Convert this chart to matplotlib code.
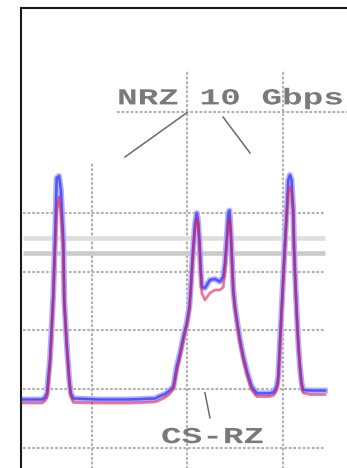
import matplotlib
matplotlib.use("Agg")
import matplotlib.pyplot as plt
from matplotlib.patheffects import AbstractPathEffect
from matplotlib.transforms import Affine2D

# Optical spectrum: two NRZ 10 Gbps channels and a CS-RZ channel between them
wavelength_nm = [
    1549.313, 1549.393, 1549.405, 1549.414, 1549.419, 1549.426, 1549.433, 1549.440,
    1549.447, 1549.454, 1549.464, 1549.472, 1549.482, 1549.486, 1549.496, 1549.506,
    1549.513, 1549.524, 1549.636, 1549.761, 1549.866, 1549.887, 1549.908, 1549.925,
    1549.943, 1549.957, 1549.971, 1549.985, 1549.999, 1550.010, 1550.015, 1550.020,
    1550.026, 1550.034, 1550.041, 1550.046, 1550.052, 1550.057, 1550.062, 1550.075,
    1550.096, 1550.117, 1550.138, 1550.152, 1550.159, 1550.166, 1550.173, 1550.178,
    1550.184, 1550.188, 1550.194, 1550.201, 1550.211, 1550.222, 1550.236, 1550.253,
    1550.271, 1550.292, 1550.320, 1550.348, 1550.364, 1550.376, 1550.382, 1550.389,
    1550.396, 1550.403, 1550.410, 1550.418, 1550.424, 1550.431, 1550.438, 1550.445,
    1550.448, 1550.452, 1550.459, 1550.466, 1550.473, 1550.480, 1550.487, 1550.515,
    1550.578,
]

power_blue_dbm = [
    -51.77, -51.77, -51.43, -50.66, -47.94, -45.04, -39.42, -33.63,
    -24.60, -14.04, -13.70, -16.08, -24.60, -34.82, -42.15, -47.94,
    -50.66, -51.60, -51.77, -51.77, -51.60, -51.18, -50.84, -50.32,
    -49.59, -46.18, -43.85, -41.07, -38.74, -35.96, -33.12, -29.71,
    -25.74, -21.70, -20.00, -21.19, -24.60, -29.15, -32.56, -32.78,
    -31.41, -31.24, -31.70, -30.85, -28.52, -24.60, -20.05, -19.57,
    -23.75, -27.44, -33.12, -35.96, -38.74, -41.64, -44.48, -47.26,
    -49.59, -50.72, -50.72, -50.72, -50.49, -49.47, -47.89, -42.15,
    -36.52, -30.85, -25.11, -19.49, -14.38, -13.53, -14.38, -19.49,
    -25.11, -29.71, -36.52, -42.15, -46.18, -48.96, -50.15, -50.24,
    -50.24,
]

power_red_dbm = [
    -52.37, -52.37, -52.03, -51.35, -49.30, -45.89, -40.78, -34.82,
    -26.30, -19.49, -17.27, -19.49, -26.30, -35.67, -42.49, -48.45,
    -51.18, -52.28, -52.37, -52.37, -52.20, -51.86, -51.43, -50.92,
    -49.98, -46.92, -44.53, -41.64, -39.25, -36.52, -33.97, -30.56,
    -26.64, -22.55, -20.85, -21.70, -25.11, -30.05, -33.63, -34.82,
    -33.63, -33.12, -33.12, -32.61, -29.71, -25.62, -21.87, -20.85,
    -23.92, -28.01, -33.63, -36.35, -39.25, -42.15, -45.04, -47.77,
    -50.15, -51.26, -51.26, -51.26, -51.01, -50.15, -48.79, -43.34,
    -37.41, -31.75, -26.30, -20.68, -16.59, -15.57, -16.42, -20.34,
    -25.96, -30.56, -37.04, -42.49, -46.41, -49.47, -50.66, -50.92,
    -50.92,
]

# Grid
grid_levels_dbm = [-20, -30, -40, -50, -60]
grid_wavelengths_nm = [1549.6, 1550.0, 1550.4]
grid_tops_dbm = [-11.3, 4.4, 4.4]
reference_levels_dbm = [-24.34, -26.81]
reference_colors = ["#dedede", "#cbcbcb"]

label_nrz = "NRZ 10 Gbps"
label_csrz = "CS-RZ"


class HorizontalStretch(AbstractPathEffect):
    """Widen glyphs horizontally about the start of the text line."""

    def __init__(self, sx):
        super().__init__()
        self.sx = sx

    def draw_path(self, renderer, gc, tpath, affine, rgbFace=None):
        x0 = affine.get_matrix()[0, 2]
        stretched = affine + Affine2D().translate(-x0, 0).scale(self.sx, 1).translate(x0, 0)
        renderer.draw_path(gc, tpath, stretched, rgbFace)


W, H = 347, 468
fig = plt.figure(figsize=(W / 100, H / 100), dpi=100)

# Axes frame: left and top edges visible, the rest runs past the figure
left_px, top_px, right_px, bottom_px = 21, 8, 400, 500
ax = fig.add_axes([left_px / W, 1 - bottom_px / H,
                   (right_px - left_px) / W, (bottom_px - top_px) / H])

px_per_nm = 95.5 / 0.4
px_per_db = 58.7 / 10.0
ax.set_xlim(1550.0 + (left_px - 187) / px_per_nm, 1550.0 + (right_px - 187) / px_per_nm)
ax.set_ylim(-20 - (bottom_px - 213) / px_per_db, -20 + (213 - top_px) / px_per_db)
ax.set_xticks([])
ax.set_yticks([])
for side in ("left", "top", "right", "bottom"):
    ax.spines[side].set_linewidth(1.5)
    ax.spines[side].set_color("#1a1a1a")

x_lo, x_hi = 1549.313, 1550.578
dotted = dict(color="#b0b0b0", linewidth=1.5, linestyle=(0, (1.3, 0.9)))
ax.hlines(grid_levels_dbm, x_lo, x_hi, zorder=1, **dotted)
for wl, top in zip(grid_wavelengths_nm, grid_tops_dbm):
    ax.vlines(wl, -80, top, zorder=1, **dotted)
for lvl, col in zip(reference_levels_dbm, reference_colors):
    ax.hlines(lvl, x_lo, x_hi, color=col, linewidth=3.3, zorder=1)

# Spectra
ax.plot(wavelength_nm, power_blue_dbm, color="#b0b0ff", linewidth=4.2, zorder=2,
        solid_joinstyle="round")
ax.plot(wavelength_nm, power_blue_dbm, color="#4a4aff", linewidth=1.8, alpha=0.9,
        zorder=3, solid_joinstyle="round")
ax.plot(wavelength_nm, power_red_dbm, color="#e0204a", linewidth=2.0, alpha=0.6,
        zorder=4, solid_joinstyle="round")

# Labels and leader lines
text_kw = dict(fontfamily="Liberation Mono", fontsize=16.5, fontweight="bold",
               color="#7a7a7a", ha="left", va="baseline", zorder=5,
               path_effects=[HorizontalStretch(1.5)])
ax.hlines(-2.8, 1549.707, 1550.75, zorder=1, **dotted)
ax.text(1549.707, -1.5, label_nrz, **text_kw)
line_kw = dict(color="#6a6a6a", linewidth=1.1, zorder=5)
ax.plot([1550.0, 1549.740], [-2.9, -10.46], **line_kw)
ax.plot([1550.151, 1550.264], [-3.65, -9.78], **line_kw)

ax.text(1549.891, -59.2, label_csrz, **text_kw)
ax.plot([1550.075, 1550.096], [-50.6, -54.9], **line_kw)

fig.savefig("out.png", dpi=100)
